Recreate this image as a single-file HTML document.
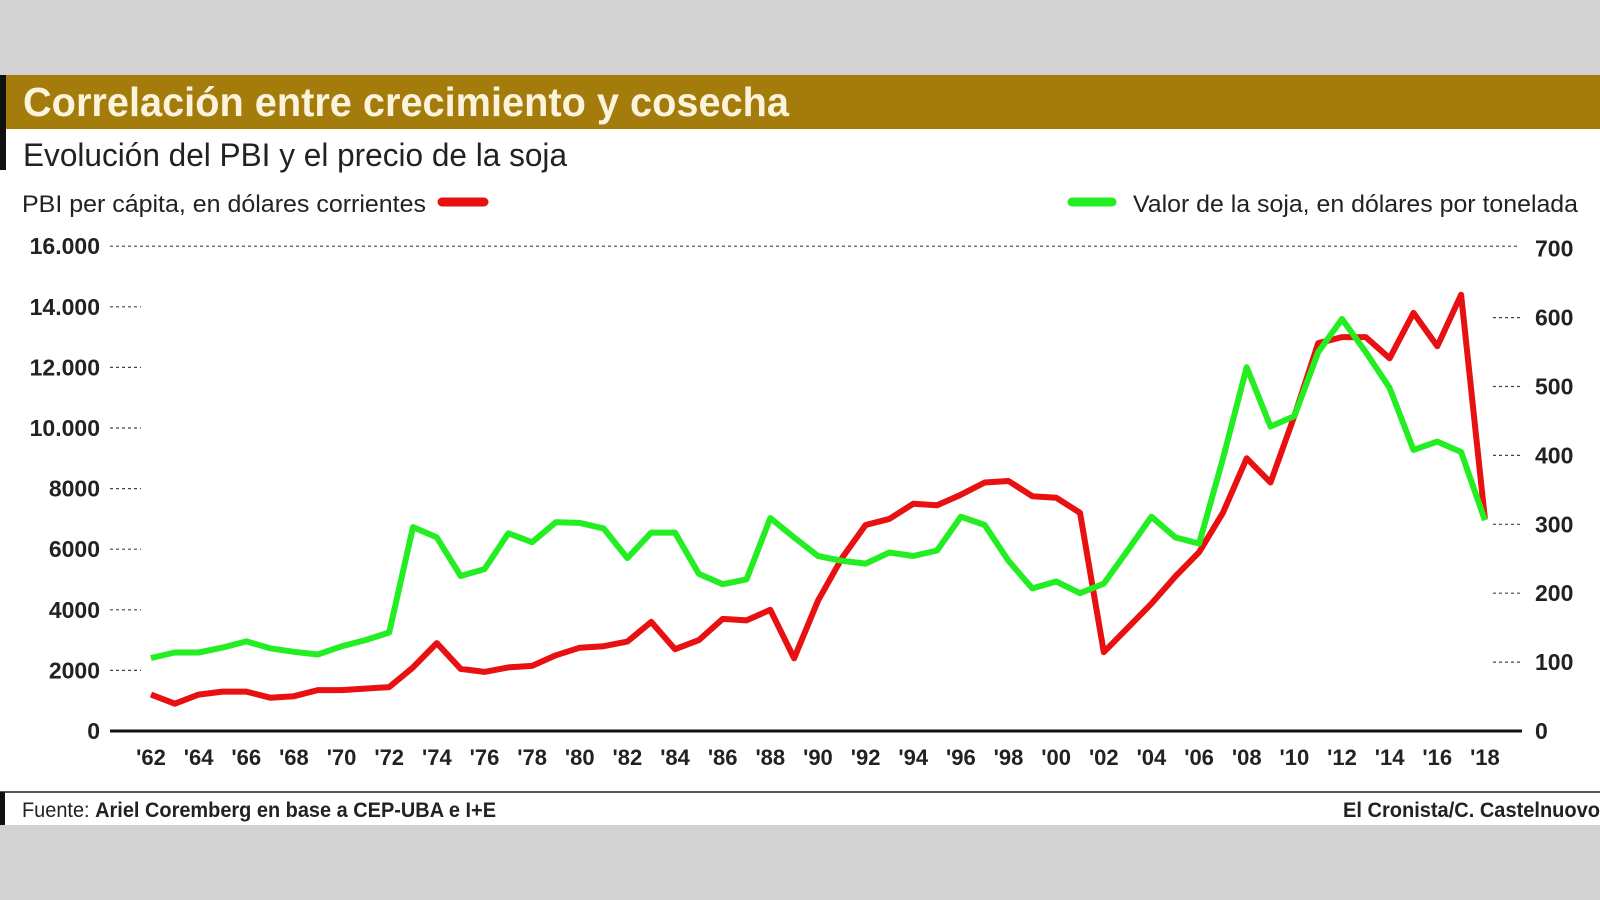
<!DOCTYPE html>
<html><head><meta charset="utf-8"><style>
body{margin:0;width:1600px;height:900px;background:#d2d2d2;overflow:hidden;font-family:"Liberation Sans Narrow","Liberation Sans",sans-serif}
</style></head><body>
<svg width="1600" height="900" xmlns="http://www.w3.org/2000/svg" style="position:absolute;left:0;top:0;font-family:'Liberation Sans Narrow','Liberation Sans',sans-serif">
<rect x="0" y="75" width="1600" height="750" fill="#fff"/>
<rect x="0" y="75" width="1600" height="54" fill="#a47c0c"/>
<rect x="0" y="75" width="6" height="95" fill="#111"/>
<text x="23" y="116" font-size="41" font-weight="bold" fill="#fbf3dc" textLength="766" lengthAdjust="spacingAndGlyphs">Correlación entre crecimiento y cosecha</text>
<text x="23" y="166" font-size="32" fill="#222" textLength="544" lengthAdjust="spacingAndGlyphs">Evolución del PBI y el precio de la soja</text>
<text x="22" y="212" font-size="24" fill="#222" textLength="404" lengthAdjust="spacingAndGlyphs">PBI per cápita, en dólares corrientes</text>
<line x1="442" y1="202" x2="484" y2="202" stroke="#e81010" stroke-width="9" stroke-linecap="round"/>
<line x1="1072" y1="202" x2="1112" y2="202" stroke="#22ee22" stroke-width="9" stroke-linecap="round"/>
<text x="1133" y="212" font-size="24" fill="#222" textLength="445" lengthAdjust="spacingAndGlyphs">Valor de la soja, en dólares por tonelada</text>
<g id="ax" font-size="23" font-weight="bold" fill="#222"></g>
<line x1="110" y1="731" x2="1522" y2="731" stroke="#111" stroke-width="3"/>
<polyline id="red" fill="none" stroke="#e81010" stroke-width="6" stroke-linejoin="round"/>
<polyline id="green" fill="none" stroke="#22ee22" stroke-width="6" stroke-linejoin="round"/>
<line x1="0" y1="792" x2="1600" y2="792" stroke="#555" stroke-width="2"/>
<rect x="0" y="792" width="5" height="33" fill="#111"/>
<text x="22" y="817" font-size="21" fill="#222" textLength="474" lengthAdjust="spacingAndGlyphs">Fuente: <tspan font-weight="bold">Ariel Coremberg en base a CEP-UBA e I+E</tspan></text>
<text x="1343" y="817" font-size="21" fill="#222" font-weight="bold" textLength="257" lengthAdjust="spacingAndGlyphs">El Cronista/C. Castelnuovo</text>
</svg>
<script>
var ns="http://www.w3.org/2000/svg",ax=document.getElementById("ax");
function el(t,a,txt){var e=document.createElementNS(ns,t);for(var k in a)e.setAttribute(k,a[k]);if(txt)e.textContent=txt;ax.appendChild(e);}
var L=["0","2000","4000","6000","8000","10.000","12.000","14.000","16.000"];
for(var i=0;i<9;i++){var y=731-i*60.6;el("text",{x:100,y:y+8,"text-anchor":"end"},L[i]);
 if(i==8)el("line",{x1:110,y1:y,x2:1520,y2:y,stroke:"#444","stroke-width":1.2,"stroke-dasharray":"3,3"});
 else if(i>0)el("line",{x1:110,y1:y,x2:141,y2:y,stroke:"#444","stroke-width":1.2,"stroke-dasharray":"3,3"});}
for(var i=0;i<8;i++){var y=731-i*68.9;el("text",{x:1535,y:y+8},String(i*100));
 if(i>0&&i<7)el("line",{x1:1493,y1:y,x2:1523,y2:y,stroke:"#444","stroke-width":1.2,"stroke-dasharray":"3,3"});}
for(var yr=62;yr<=118;yr+=2){var x=151+23.82*(yr-62);el("text",{x:x,y:765,"text-anchor":"middle","font-size":"22"},"'"+String(yr%100).padStart(2,"0"));}
var r=[1.2,0.9,1.2,1.3,1.3,1.1,1.15,1.35,1.35,1.4,1.45,2.1,2.9,2.05,1.95,2.1,2.15,2.5,2.75,2.8,2.95,3.6,2.7,3.0,3.7,3.65,4.0,2.4,4.3,5.7,6.8,7.0,7.5,7.45,7.8,8.2,8.25,7.75,7.7,7.2,2.6,3.4,4.2,5.1,5.9,7.2,9.0,8.2,10.4,12.8,13.0,13.0,12.3,13.8,12.7,14.4,7.0];
var g=[106,114,114,121,130,120,115,111,123,132,143,296,281,225,235,287,274,303,302,294,251,288,288,228,213,220,309,281,254,247,243,259,254,262,311,299,247,207,217,200,214,262,311,281,272,395,528,442,457,550,598,550,498,408,420,405,306];
var pr="",pg="";
for(var i=0;i<r.length;i++){var x=151+23.82*i;pr+=x.toFixed(1)+","+(731-r[i]*30.3).toFixed(1)+" ";pg+=x.toFixed(1)+","+(731-g[i]*0.689).toFixed(1)+" ";}
document.getElementById("red").setAttribute("points",pr);
document.getElementById("green").setAttribute("points",pg);
</script>
</body></html>
